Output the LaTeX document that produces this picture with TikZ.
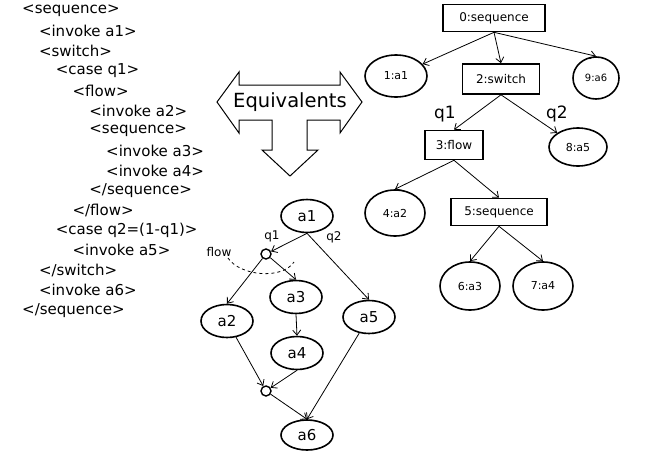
\documentclass[tikz,border=0pt]{standalone}
\usepackage{fontspec}
\setmainfont{DejaVu Sans}
\usetikzlibrary{shapes.geometric,arrows.meta}

\begin{document}
\begin{tikzpicture}[x=1pt,y=-1pt,
  code/.style={anchor=west,inner sep=0pt,font=\fontsize{15}{18}\selectfont},
  bpel/.style={draw,line width=1.6pt,minimum height=27pt,inner sep=1pt,font=\fontsize{12}{14}\selectfont},
  act/.style={draw,ellipse,line width=1.6pt,inner sep=0pt,font=\fontsize{11}{13}\selectfont},
  flw/.style={draw,ellipse,line width=1.6pt,minimum width=52pt,minimum height=33pt,inner sep=0pt,font=\fontsize{15}{18}\selectfont},
  junc/.style={draw,circle,line width=1.4pt,minimum size=10pt,inner sep=0pt},
  lbl/.style={inner sep=0pt,font=\fontsize{12}{14}\selectfont},
  arr/.style={-{Straight Barb[length=5pt,width=8pt]},line width=0.8pt}]
  \useasboundingbox (0,0) rectangle (646,456);
  \foreach \lv/\txt [count=\i from 0] in {0/{<sequence>},1/{<invoke a1>},1/{<switch>},2/{<case q1>},3/{<flow>},4/{<invoke a2>},4/{<sequence>},5/{<invoke a3>},5/{<invoke a4>},4/{</sequence>},3/{</flow>},2/{<case q2=(1-q1)>},3/{<invoke a5>},1/{</switch>},1/{<invoke a6>},0/{</sequence>}}
    \node[code] (l\i) at ({22+16.8*\lv},{11+19.95*\i}) {\txt};
  \draw[line width=1pt] (217,102) -- (239,72) -- (239,85) -- (340,85) -- (340,72) -- (362,102) -- (340,133) -- (340,120) -- (307,120) -- (307,150) -- (318,150) -- (290,176) -- (262,150) -- (272,150) -- (272,120) -- (239,120) -- (239,133) -- cycle;
  \node[font=\fontsize{19.5}{22}\selectfont] (eq) at (290,102) {Equivalents};
  \node[bpel,minimum width=102pt] (s0) at (494,18) {0:sequence};
  \node[act,minimum width=62pt,minimum height=42pt] (t1) at (396,76) {1:a1};
  \node[bpel,minimum width=77pt,minimum height=30pt] (t2) at (501,79) {2:switch};
  \node[act,minimum width=46pt,minimum height=42pt,font=\fontsize{10}{12}\selectfont] (t9) at (596,78) {9:a6};
  \node[bpel,minimum width=58pt,minimum height=29pt] (t3) at (454,145) {3:flow};
  \node[act,minimum width=58pt,minimum height=38pt] (t8) at (578,147) {8:a5};
  \node[act,minimum width=60pt,minimum height=46pt] (t4) at (395,213) {4:a2};
  \node[bpel,minimum width=96pt] (t5) at (499,212) {5:sequence};
  \node[act,minimum width=60pt,minimum height=48pt] (t6) at (470,286) {6:a3};
  \node[act,minimum width=60pt,minimum height=48pt] (t7) at (543,286) {7:a4};
  \foreach \a/\b in {s0.south/t1,s0.south/t2.north,s0.south/t9.north,t2.south/t3.north,t2.south/t8,t3.south/t4.north,t3.south/t5.north,t5.south/t6.north,t5.south/t7.north}
    \draw[arr] (\a) -- (\b);
  \node[lbl,font=\fontsize{17}{20}\selectfont] (tq1) at (445,114) {q1};
  \node[lbl,font=\fontsize{17}{20}\selectfont] (tq2) at (557,114) {q2};
  \node[flw] (a1) at (307,216) {a1};
  \node[junc] (j1) at (266,254) {};
  \node[flw] (a3) at (296,297) {a3};
  \node[flw] (a2) at (227,321) {a2};
  \node[flw] (a5) at (369,317) {a5};
  \node[flw] (a4) at (297,353) {a4};
  \node[junc] (j2) at (266,391) {};
  \node[flw,minimum height=30pt] (a6) at (307,435) {a6};
  \foreach \a/\b in {a1.south/j1,a1.south/a5.north,j1/a2.north,j1/a3.north,a3.south/a4.north,a2/j2,a4.south/j2,j2/a6.north,a5/a6.north}
    \draw[arr] (\a) -- (\b);
  \node[lbl] (q1) at (272,236) {q1};
  \node[lbl] (q2) at (334,237) {q2};
  \node[lbl] (fl) at (219,252) {flow};
  \draw[dashed,line width=0.8pt] (228,258) .. controls (240,276) and (282,280) .. (294,262);
\end{tikzpicture}
\end{document}
